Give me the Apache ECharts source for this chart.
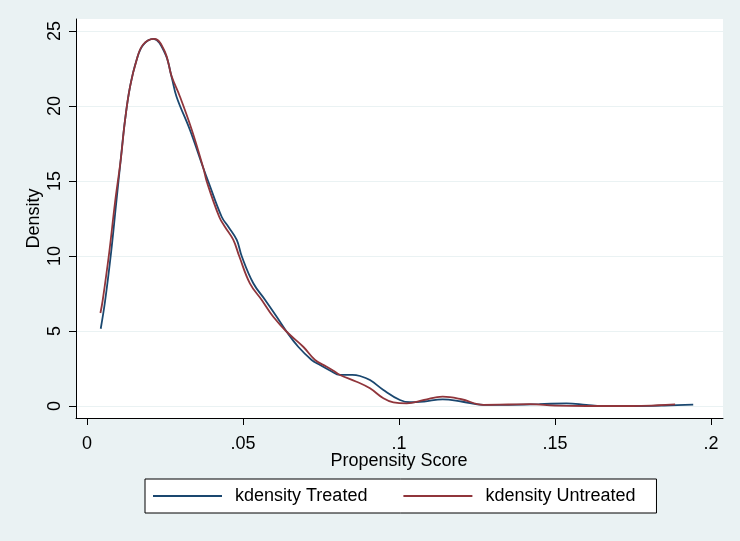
<!DOCTYPE html>
<html>
<head>
<meta charset="utf-8">
<script src="https://cdn.jsdelivr.net/npm/echarts@6/dist/echarts.min.js"></script>
<style>
html,body{margin:0;padding:0;background:#eaf2f3;}
#chart{width:740px;height:541px;}
</style>
</head>
<body>
<div id="chart"></div>
<script>
// Data
var seriesNames = ['kdensity Treated', 'kdensity Untreated'];
var xTickValues = [0, 0.05, 0.1, 0.15, 0.2];
var xTickLabels = ['0', '.05', '.1', '.15', '.2'];
var yTickValues = [0, 5, 10, 15, 20, 25];
var yTickLabels = ['0', '5', '10', '15', '20', '25'];

var treatedX = [0.0044, 0.0058, 0.0077, 0.0093, 0.0108, 0.0122, 0.0138, 0.0159, 0.0180, 0.0213,
  0.0250, 0.0271, 0.0287, 0.0330, 0.0373, 0.0389, 0.0432, 0.0453, 0.0480, 0.0496,
  0.0533, 0.0571, 0.0608, 0.0640, 0.0677, 0.0720, 0.0747, 0.0780, 0.0811, 0.0850,
  0.0875, 0.0907, 0.0950, 0.1003, 0.1035, 0.1080, 0.1140, 0.1200, 0.1270, 0.1350,
  0.1450, 0.1537, 0.1600, 0.1650, 0.1750, 0.1850, 0.1943];
var treatedY = [5.15, 7.0, 10.2, 13.4, 16.4, 19.07, 21.29, 23.07, 24.07, 24.47,
  23.51, 21.95, 20.62, 18.4, 15.85, 14.95, 12.6, 11.95, 11.07, 9.98,
  8.18, 7.07, 5.95, 4.95, 3.95, 3.07, 2.73, 2.35, 2.07, 2.08,
  2.0, 1.73, 1.07, 0.4, 0.25, 0.3, 0.44, 0.3, 0.07, 0.08,
  0.12, 0.18, 0.08, 0.0, 0.0, 0.03, 0.09];

var untreatedX = [0.0043, 0.0050, 0.0071, 0.0090, 0.0108, 0.0122, 0.0138, 0.0159, 0.0180, 0.0216,
  0.0250, 0.0271, 0.0298, 0.0336, 0.0373, 0.0384, 0.0424, 0.0442, 0.0469, 0.0488,
  0.0522, 0.0560, 0.0597, 0.0640, 0.0693, 0.0731, 0.0768, 0.0790, 0.0811, 0.0864,
  0.0907, 0.0950, 0.0982, 0.1025, 0.1080, 0.1140, 0.1200, 0.1270, 0.1350, 0.1420,
  0.1500, 0.1600, 0.1750, 0.1830, 0.1885];
var untreatedY = [6.2, 7.0, 10.2, 13.6, 16.4, 19.07, 21.29, 23.07, 24.1, 24.47,
  23.6, 22.0, 20.62, 18.4, 15.85, 14.95, 12.6, 11.95, 11.07, 9.98,
  8.18, 7.07, 5.95, 4.95, 3.95, 3.07, 2.62, 2.35, 2.07, 1.62,
  1.18, 0.51, 0.24, 0.18, 0.4, 0.62, 0.45, 0.08, 0.1, 0.12,
  0.03, 0.0, 0.0, 0.05, 0.11];

function pairs(xs, ys) {
  var out = [];
  for (var i = 0; i < xs.length; i++) out.push([xs[i], ys[i]]);
  return out;
}
function labelFor(values, labels, v) {
  for (var i = 0; i < values.length; i++) {
    if (Math.abs(values[i] - v) < 1e-9) return labels[i];
  }
  return '';
}

var FONT = 'Liberation Sans, Arial, sans-serif';
var chart = echarts.init(document.getElementById('chart'), null, {renderer: 'canvas'});

var option = {
  backgroundColor: '#eaf2f3',
  animation: false,
  textStyle: {fontFamily: FONT},
  grid: [
    {left: 76, right: 17, top: 19, bottom: 123, show: true, backgroundColor: '#ffffff', borderWidth: 0, z: 0},
    {left: 87, right: 29, top: 19, bottom: 123, show: false},
    {left: 76, right: 17, top: 31, bottom: 135, show: false}
  ],
  xAxis: [
    {gridIndex: 0, type: 'value', min: -11 / 3120, max: 0.2 + 12 / 3120,
      axisLine: {show: true, onZero: false, lineStyle: {color: '#000', width: 1}},
      axisTick: {show: false}, axisLabel: {show: false}, splitLine: {show: false}, z: 3},
    {gridIndex: 1, type: 'value', min: 0, max: 0.2, interval: 0.05,
      axisLine: {show: false},
      axisTick: {show: true, length: 7, lineStyle: {color: '#000', width: 1}},
      axisLabel: {show: true, margin: 17, fontSize: 18, color: '#000', fontFamily: FONT,
        formatter: function (v) { return labelFor(xTickValues, xTickLabels, v); }},
      splitLine: {show: false},
      name: 'Propensity Score', nameLocation: 'middle', nameGap: 34, nameMoveOverlap: false,
      nameTextStyle: {fontSize: 18, color: '#000', fontFamily: FONT}, z: 3},
    {gridIndex: 2, type: 'value', min: 0, max: 0.2, show: false}
  ],
  yAxis: [
    {gridIndex: 0, type: 'value', min: -0.8, max: 25.8,
      axisLine: {show: true, onZero: false, lineStyle: {color: '#000', width: 1}},
      axisTick: {show: false}, axisLabel: {show: false}, splitLine: {show: false}, z: 3},
    {gridIndex: 1, type: 'value', min: 0, max: 25, show: false},
    {gridIndex: 2, type: 'value', min: 0, max: 25, interval: 5,
      axisLine: {show: false},
      axisTick: {show: true, length: 7, lineStyle: {color: '#000', width: 1}},
      axisLabel: {show: true, rotate: 90, margin: 12, fontSize: 18, color: '#000', fontFamily: FONT,
        formatter: function (v) { return labelFor(yTickValues, yTickLabels, v); }},
      splitLine: {show: true, lineStyle: {color: '#eaf2f3', width: 1.2}},
      name: 'Density', nameLocation: 'middle', nameGap: 33, nameRotate: 90, nameMoveOverlap: false,
      nameTextStyle: {fontSize: 18, color: '#000', fontFamily: FONT}, z: 1}
  ],
  legend: {
    data: seriesNames,
    left: 145, top: 479,
    orient: 'horizontal',
    backgroundColor: '#ffffff',
    borderColor: '#000', borderWidth: 1, borderRadius: 0,
    padding: [8, 21, 8, 8],
    icon: 'rect',
    itemWidth: 69, itemHeight: 2, itemGap: 36,
    textStyle: {fontSize: 18, color: '#000', fontFamily: FONT, padding: [0, 0, 0, 8]}
  },
  series: [
    {name: seriesNames[0], type: 'line', xAxisIndex: 0, yAxisIndex: 0,
      data: pairs(treatedX, treatedY), showSymbol: false, symbol: 'none', smooth: 0.4,
      lineStyle: {color: '#1a476f', width: 1.8}, itemStyle: {color: '#1a476f'}, z: 5},
    {name: seriesNames[1], type: 'line', xAxisIndex: 0, yAxisIndex: 0,
      data: pairs(untreatedX, untreatedY), showSymbol: false, symbol: 'none', smooth: 0.4,
      lineStyle: {color: '#90353b', width: 1.8}, itemStyle: {color: '#90353b'}, z: 5}
  ]
};
chart.setOption(option);
</script>
</body>
</html>
